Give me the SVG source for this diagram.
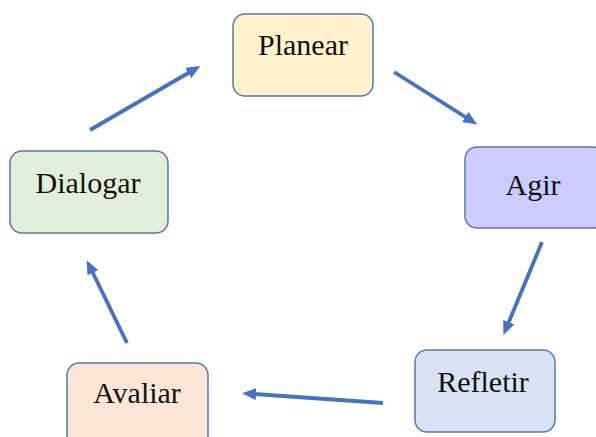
<svg xmlns="http://www.w3.org/2000/svg" width="596" height="437" viewBox="0 0 596 437">
<style>
.box{stroke:#5877B0;stroke-width:1.5}
.lbl{font-size:30px;fill:#111;text-anchor:middle}
.arr{stroke:#4472C4;stroke-width:3.8;fill:none;marker-end:url(#ah)}
</style>
<defs>
<marker id="ah" viewBox="0 0 14 12" refX="2" refY="6" markerWidth="14" markerHeight="12" markerUnits="userSpaceOnUse" orient="auto">
<path d="M0,0 L14,6 L0,12 Z" fill="#4472C4"/>
</marker>
</defs>
<rect width="596" height="437" fill="#fff"/>
<g font-family="Liberation Serif, DejaVu Serif, serif">
<g id="planear"><rect class="box" x="233" y="14" width="140" height="82" rx="12" fill="#FFF2CC"/><text class="lbl" x="303" y="55">Planear</text></g>
<g id="agir"><rect class="box" x="465" y="147" width="140" height="81" rx="12" fill="#CCCCFF"/><text class="lbl" x="533" y="195">Agir</text></g>
<g id="refletir"><rect class="box" x="415" y="350" width="140" height="82" rx="12" fill="#DAE3F3"/><text class="lbl" x="483" y="392">Refletir</text></g>
<g id="avaliar"><rect class="box" x="67" y="363" width="141" height="90" rx="12" fill="#FBE5D6"/><text class="lbl" x="137" y="403">Avaliar</text></g>
<g id="dialogar"><rect class="box" x="10" y="151" width="158" height="82" rx="12" fill="#E2EFDA"/><text class="lbl" x="88" y="193">Dialogar</text></g>
</g>
<g id="connectors">
<line class="arr" x1="90" y1="130" x2="190" y2="72"/>
<line class="arr" x1="394" y1="72" x2="467" y2="118"/>
<line class="arr" x1="542" y1="242" x2="508" y2="324"/>
<line class="arr" x1="383" y1="403" x2="254" y2="394"/>
<line class="arr" x1="127" y1="343" x2="92" y2="271"/>
</g>
</svg>
